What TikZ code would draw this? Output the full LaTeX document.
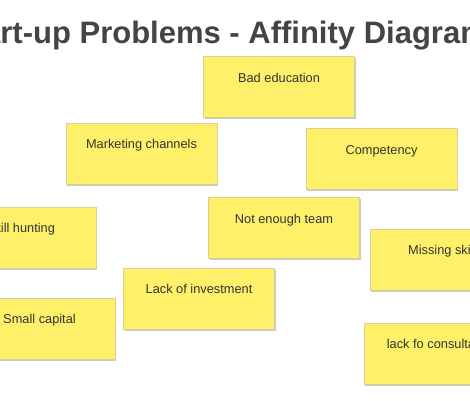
\documentclass[tikz,border=0pt]{standalone}
\usepackage{fontspec}
\setmainfont{Liberation Sans}
\usepackage{tikz}
\usetikzlibrary{shadows}

\definecolor{noteyellow}{HTML}{FFF06A}
\definecolor{noteedge}{HTML}{D8D09A}
\definecolor{titlegray}{HTML}{444444}
\definecolor{notetext}{HTML}{333333}

\begin{document}
\begin{tikzpicture}[x=1pt, y=-1pt,
    note/.style={rectangle, draw=noteedge, line width=0.6pt, fill=noteyellow,
        minimum width=151pt, inner sep=0pt, text height=25.5pt, text depth=35.5pt,
        font=\fontsize{12.8}{14}\selectfont, text=notetext,
        drop shadow={shadow xshift=1.2pt, shadow yshift=-1.6pt, opacity=0.35, fill=black!60}},
    heading/.style={font=\fontsize{31}{36}\selectfont\bfseries, text=titlegray, anchor=base}]
    % --- CANVAS ---
    \useasboundingbox (0,0) rectangle (470,400);
    \clip (0,0) rectangle (470,400);
    \fill[white] (0,0) rectangle (470,400);

    % Title
    \node[heading] (title) at (220,43) {Start-up Problems - Affinity Diagram};

    % --- STICKY NOTES ---
    \foreach \name/\x/\y/\txt in {
        bad/279/87/Bad education,
        marketing/141.5/153.5/Marketing channels,
        competency/381.5/159/Competency,
        skill/20.5/237.5/Skill hunting,
        team/284/228/Not enough team,
        missing/445.5/259.5/Missing skills,
        invest/199/298.5/Lack of investment,
        small/39.5/328.5/Small capital,
        consult/439.5/353.5/lack fo consultants}
        \node[note] (\name) at (\x,\y) {\txt};
\end{tikzpicture}
\end{document}
